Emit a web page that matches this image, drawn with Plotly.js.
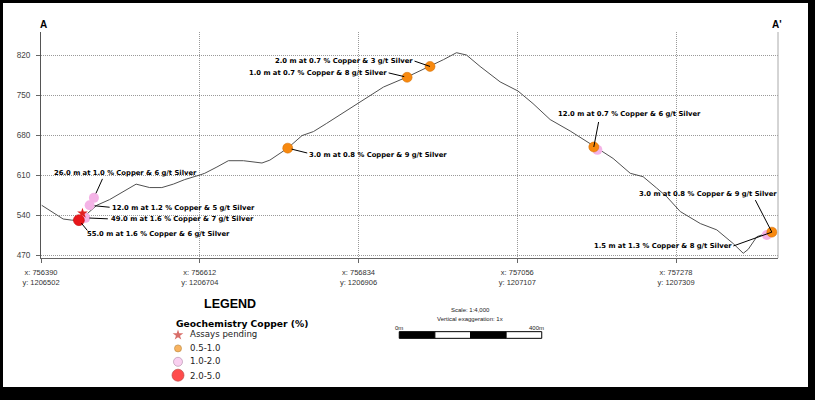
<!DOCTYPE html>
<html><head><meta charset="utf-8">
<script src="https://cdn.plot.ly/plotly-3.0.1.min.js"></script>
<style>
html,body{margin:0;padding:0;background:#000;width:815px;height:400px;overflow:hidden}
#chart{position:absolute;left:3px;top:3px;width:805px;height:384px;background:#fff}
</style></head><body><div id="chart"></div>
<script>
// ---- data ----
const profileX = [756391,756421,756433,756444,756449,756456,756468,756486,756510,756523,756542,756559,756575,756591,756612,756619,756636,756652,756673,756699,756710,756735,756755,756771,756789,756836,756869,756901,756934,756953,756971,756985,757004,757032,757057,757078,757102,757130,757164,757190,757214,757232,757251,757265,757284,757312,757335,757358,757372,757379,757391,757405,757412];
const profileY = [557,533,531,531,536,544,557,567,585,594,588,588,594,602,610,613,624,635,635,631,636,657,679,686,700,738,764,781,800,812,824,820,800,773,757,735,707,687,660,639,613,607,587,572,546,525,514,490,473,480,502,508,511];

const orangeX = [756735, 756902, 756934, 757163, 757412];
const orangeY = [657, 781, 800, 659, 510];
const pinkX = [756458, 756464, 756452, 757168, 757405];
const pinkY = [557, 570, 535, 654, 505];
const redX = [756443];
const redY = [531];
const pendingX = [756448];
const pendingY = [543];

const xTickVals = [756390, 756612, 756834, 757056, 757278];
const xTickNorth = [1206502, 1206704, 1206906, 1207107, 1207309];
const yTickVals = [470, 540, 610, 680, 750, 820];

const intervalLabels = [
  '26.0 m at 1.0 % Copper & 6 g/t Silver',
  '12.0 m at 1.2 % Copper & 5 g/t Silver',
  '49.0 m at 1.6 % Copper & 7 g/t Silver',
  '55.0 m at 1.6 % Copper & 6 g/t Silver',
  '3.0 m at 0.8 % Copper & 9 g/t Silver',
  '1.0 m at 0.7 % Copper & 8 g/t Silver',
  '2.0 m at 0.7 % Copper & 3 g/t Silver',
  '12.0 m at 0.7 % Copper & 6 g/t Silver',
  '3.0 m at 0.8 % Copper & 9 g/t Silver',
  '1.5 m at 1.3 % Copper & 8 g/t Silver'
];
// which marker each label points at
const labelSeries = ['pink','pink','pink','red','orange','orange','orange','orange','orange','orange'];
const labelIndex  = [1,0,2,0,0,1,2,3,4,4];

const legendLabels = ['Assays pending', '0.5-1.0', '1.0-2.0', '2.0-5.0'];
const scaleSegments = [100, 100, 100, 100];
const scaleBases = [0, 100, 200, 300];

// ---- styling / placement (pixels) ----
const labelPlace = [
  {dx:31.5, dy:-25.3, ax:9, ay:-20, so:5},
  {dx:93.8, dy:2.7, ax:20.5, ay:2, so:5},
  {dx:97.5, dy:1.3, ax:23, ay:1, so:4},
  {dx:79.5, dy:14, ax:9, ay:11, so:4},
  {dx:90.3, dy:7, ax:20, ay:5, so:4},
  {dx:-88.7, dy:-4.2, ax:-19, ay:-4.5, so:3},
  {dx:-86.2, dy:-5.8, ax:-16, ay:-5.5, so:0},
  {dx:36, dy:-32.7, ax:5, ay:-26, so:0},
  {dx:-63.7, dy:-38, ax:-17, ay:-33, so:0},
  {dx:-108.7, dy:13.7, ax:-39, ay:14, so:0}
];

const series = {orange:[orangeX,orangeY], pink:[pinkX,pinkY], red:[redX,redY]};

const C_OR = '#F7890F', C_PK = '#F4B3E6', C_RD = '#E8161B';

const traces = [
  {x:profileX, y:profileY, mode:'lines', line:{color:'#505050', width:1}, showlegend:false},
  {x:pinkX, y:pinkY, mode:'markers', marker:{color:C_PK, size:10, line:{width:0}}, showlegend:false},
  {x:orangeX, y:orangeY, mode:'markers', marker:{color:C_OR, size:10, line:{color:'#d06a00', width:0.5}}, showlegend:false},
  {x:redX, y:redY, mode:'markers', marker:{color:C_RD, size:11, line:{color:'#b00', width:0.5}}, showlegend:false},
  {x:pendingX, y:pendingY, mode:'markers', marker:{symbol:'star', color:'#E02020', size:8, line:{width:0}}, showlegend:false},
  // legend symbols
  {x:[0,0,0,0], y:[0,1,2,3], xaxis:'x2', yaxis:'y2', mode:'markers', showlegend:false,
   marker:{symbol:['star','circle','circle','circle'], size:[8,7,9,12],
     color:['#C8302A','#F7941D','#F7BDEB','#FF0000'],
     line:{color:['#C8302A','#a36000','#9c6a90','#a00000'], width:[0,0.7,0.7,0.7]}}},
  {x:[1,1,1,1], y:[0,1,2,3.1], xaxis:'x2', yaxis:'y2', mode:'text', text:legendLabels,
   textposition:'middle right', textfont:{family:'DejaVu Sans', size:8.6, color:'#222'}, showlegend:false},
  // scale bar
  {type:'bar', orientation:'h', x:scaleSegments, base:scaleBases, y:[0,0,0,0], width:[1,1,1,1],
   xaxis:'x3', yaxis:'y3', showlegend:false,
   marker:{color:['#000','#fff','#000','#fff'], line:{color:'#000', width:1}}}
];

const annotations = [];
intervalLabels.forEach((t,i)=>{
  const s = series[labelSeries[i]], k = labelIndex[i], p = labelPlace[i];
  annotations.push({x:s[0][k], y:s[1][k], xref:'x', yref:'y', text:'<b>'+t+'</b>', showarrow:false,
    xanchor:'center', yanchor:'middle', xshift:p.dx, yshift:-p.dy,
    font:{family:'DejaVu Sans', size:6.8, color:'#000'}});
  annotations.push({x:s[0][k], y:s[1][k], xref:'x', yref:'y', text:' ', showarrow:true, arrowhead:0,
    arrowwidth:1, arrowcolor:'#000', ax:p.ax, ay:p.ay, standoff:p.so, borderpad:0, font:{size:1}});
});
const pageY = py => (387 - py) / 355;
const pageX = px => (px - 41) / 737;
annotations.push(
  {xref:'paper', yref:'paper', x:pageX(43), y:pageY(24), text:'<b>A</b>', showarrow:false, xanchor:'center', yanchor:'middle', font:{family:'Liberation Sans', size:10, color:'#000'}},
  {xref:'paper', yref:'paper', x:pageX(777), y:pageY(24), text:"<b>A'</b>", showarrow:false, xanchor:'center', yanchor:'middle', font:{family:'Liberation Sans', size:10, color:'#000'}},
  {xref:'paper', yref:'paper', x:pageX(229.5), y:pageY(304), text:'<b>LEGEND</b>', showarrow:false, xanchor:'center', yanchor:'middle', font:{family:'Liberation Sans', size:12.5, color:'#000'}},
  {xref:'paper', yref:'paper', x:pageX(174), y:pageY(323.3), text:'<b>Geochemistry Copper (%)</b>', showarrow:false, xanchor:'left', yanchor:'middle', font:{family:'DejaVu Sans', size:9.2, color:'#000'}},
  {xref:'paper', yref:'paper', x:pageX(470.5), y:pageY(310), text:'Scale: 1:4,000', showarrow:false, xanchor:'center', yanchor:'middle', font:{family:'Liberation Sans', size:6, color:'#222'}},
  {xref:'paper', yref:'paper', x:pageX(470.5), y:pageY(319.3), text:'Vertical exaggeration: 1x', showarrow:false, xanchor:'center', yanchor:'middle', font:{family:'Liberation Sans', size:6, color:'#222'}},
  {xref:'x3', yref:'paper', x:0, y:pageY(327.5), text:'0m', showarrow:false, xanchor:'center', yanchor:'middle', font:{family:'Liberation Sans', size:6, color:'#222'}},
  {xref:'x3', yref:'paper', x:400, y:pageY(327.5), text:'400m', showarrow:false, xanchor:'right', xshift:4, yanchor:'middle', font:{family:'Liberation Sans', size:6, color:'#222'}}
);

const layout = {
  width:805, height:384,
  margin:{l:38, r:30, t:29, b:0},
  paper_bgcolor:'#fff', plot_bgcolor:'#fff',
  showlegend:false, hovermode:false,
  xaxis:{domain:[0,1], range:[756390, 757420.6], tickvals:xTickVals,
    ticktext:xTickVals.map((v,i)=>'x: '+v+'<br>y: '+xTickNorth[i]),
    showline:true, linecolor:'#666', linewidth:1, ticks:'outside', ticklen:4, tickcolor:'#666',
    showgrid:true, gridcolor:'#999', griddash:'1px,1px', gridwidth:1, zeroline:false,
    tickfont:{family:'Liberation Sans', size:7.5, color:'#333'}, ticklabelstandoff:3},
  yaxis:{domain:[pageY(258), 1], range:[464.75, 860.25], tickvals:yTickVals,
    showline:true, linecolor:'#555', linewidth:1, ticks:'outside', ticklen:4, tickcolor:'#666',
    showgrid:true, gridcolor:'#999', griddash:'1px,1px', gridwidth:1, zeroline:false,
    tickfont:{family:'Liberation Sans', size:8.2, color:'#444'}, ticklabelstandoff:4},
  xaxis2:{domain:[pageX(150), pageX(320)], range:[(150-178)/12, (320-178)/12], visible:false, anchor:'y2', fixedrange:true},
  yaxis2:{domain:[pageY(385), pageY(328)], range:[(385-335)/13.4, (328-335)/13.4], visible:false, anchor:'x2', fixedrange:true},
  xaxis3:{domain:[pageX(395.7), pageX(545.3)], range:[-10, 410], visible:false, anchor:'y3'},
  yaxis3:{domain:[pageY(339), pageY(331)], range:[-0.6, 0.6], visible:false, anchor:'x3'},
  shapes:[{type:'line', xref:'paper', yref:'paper', x0:1, x1:1, y0:pageY(258), y1:1, line:{color:'#aaa', width:1}}],
  annotations:annotations
};

Plotly.newPlot('chart', traces, layout, {staticPlot:true, displayModeBar:false});
</script>
</body></html>
